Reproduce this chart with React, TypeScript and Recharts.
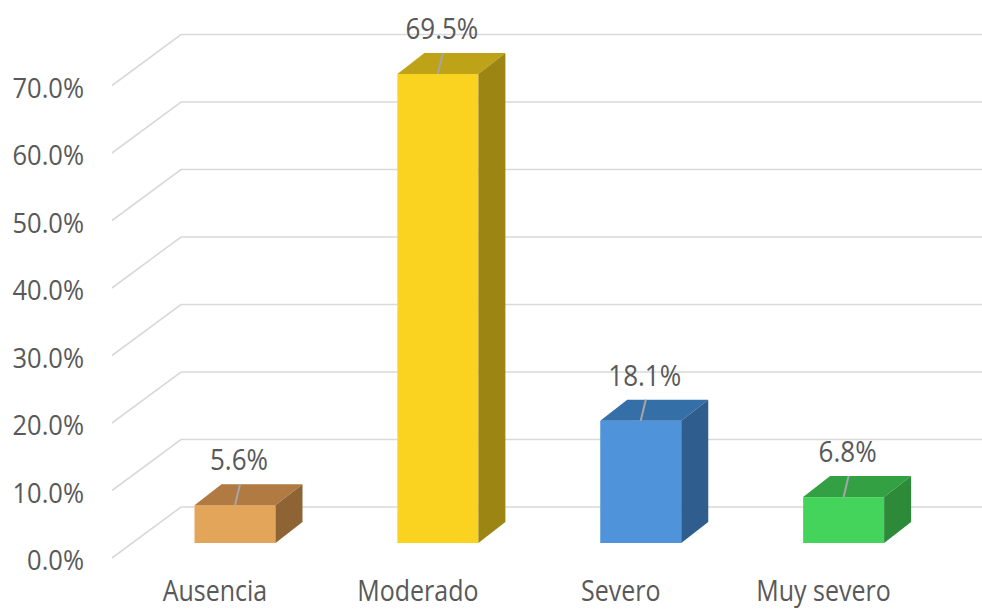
import React from 'react';
import { BarChart, Bar, XAxis, YAxis, CartesianGrid, LabelList } from 'recharts';

// categories and values (percent)
const categories = ['Ausencia', 'Moderado', 'Severo', 'Muy severo'];
const values = [5.6, 69.5, 18.1, 6.8];
const yTicks = [0, 10, 20, 30, 40, 50, 60, 70];

// front / top / side colours for each bar
const frontColors = ['#E3A55A', '#F9D320', '#4F94DA', '#45D45B'];
const topColors = ['#B07A42', '#BEA318', '#356FA8', '#34A044'];
const sideColors = ['#8E6434', '#9D8513', '#2F5E8E', '#2C8A39'];

const data = categories.map((name, i) => ({ name, value: values[i] }));

const FONT = '"Open Sans", "Noto Sans", sans-serif';
const TEXT = '#595959';
const DX = 27; // bar depth offset
const DY = 21;

const Box3D = (props: any) => {
  const { x, y, width, height, index } = props;
  if (height == null || width == null) return null;
  const front = frontColors[index];
  return (
    <g>
      <rect x={x} y={y} width={width} height={height} fill={front} />
      <polygon
        points={`${x},${y} ${x + DX},${y - DY} ${x + width + DX},${y - DY} ${x + width},${y}`}
        fill={topColors[index]}
      />
      <polygon
        points={`${x + width},${y} ${x + width + DX},${y - DY} ${x + width + DX},${y + height - DY} ${x + width},${y + height}`}
        fill={sideColors[index]}
      />
    </g>
  );
};

const renderGridLine = (p: any) => {
  const x = p.x1;
  const y = p.y1;
  // skip the line at the top edge of the domain (80%)
  if (y < 20) return <g key={`grid-${y}`} />;
  return (
    <path
      key={`grid-${y}`}
      d={`M${x - 21.5},${y + 15} L${x + 47.5},${y - 36} L982,${y - 36}`}
      stroke="#D9D9D9"
      strokeWidth={1.6}
      fill="none"
    />
  );
};

const YTick = (props: any) => {
  const { y, payload } = props;
  return (
    <g transform={`translate(84,${y + 27}) scale(1,1.1)`}>
      <text x={0} y={0} textAnchor="end" fill={TEXT} fontSize={25.5} fontFamily={FONT}>
        {payload.value.toFixed(1)}%
      </text>
    </g>
  );
};

const XTick = (props: any) => {
  const { x, payload } = props;
  return (
    <g transform={`translate(${x - 20},601) scale(1,1.15)`}>
      <text x={0} y={0} textAnchor="middle" fill={TEXT} fontSize={25} fontFamily={FONT}>
        {payload.value}
      </text>
    </g>
  );
};

const renderValueLabel = (props: any) => {
  const { x, y, width, value } = props;
  const cx = x + width / 2;
  return (
    <g>
      <line x1={cx} y1={y} x2={cx + 5} y2={y - 21} stroke="#A6A6A6" strokeWidth={2} />
      <g transform={`translate(${cx + 4},${y - 35}) scale(1,1.1)`}>
        <text x={0} y={0} textAnchor="middle" fill={TEXT} fontSize={26} fontFamily={FONT}>
          {value.toFixed(1)}%
        </text>
      </g>
    </g>
  );
};

export default function App() {
  return (
    <div style={{ position: 'absolute', left: 0, top: 0, background: '#fff' }}>
      <BarChart
        width={982}
        height={611}
        data={data}
        margin={{ top: 3, right: 37, bottom: 0, left: 0 }}
      >
        <CartesianGrid vertical={false} horizontal={renderGridLine} />
        <XAxis
          dataKey="name"
          axisLine={false}
          tickLine={false}
          height={68}
          tick={<XTick />}
          interval={0}
        />
        <YAxis
          type="number"
          domain={[0, 80]}
          ticks={yTicks}
          axisLine={false}
          tickLine={false}
          width={133.5}
          tick={<YTick />}
        />
        <Bar dataKey="value" barSize={81} shape={<Box3D />} isAnimationActive={false}>
          <LabelList dataKey="value" content={renderValueLabel} />
        </Bar>
      </BarChart>
    </div>
  );
}
